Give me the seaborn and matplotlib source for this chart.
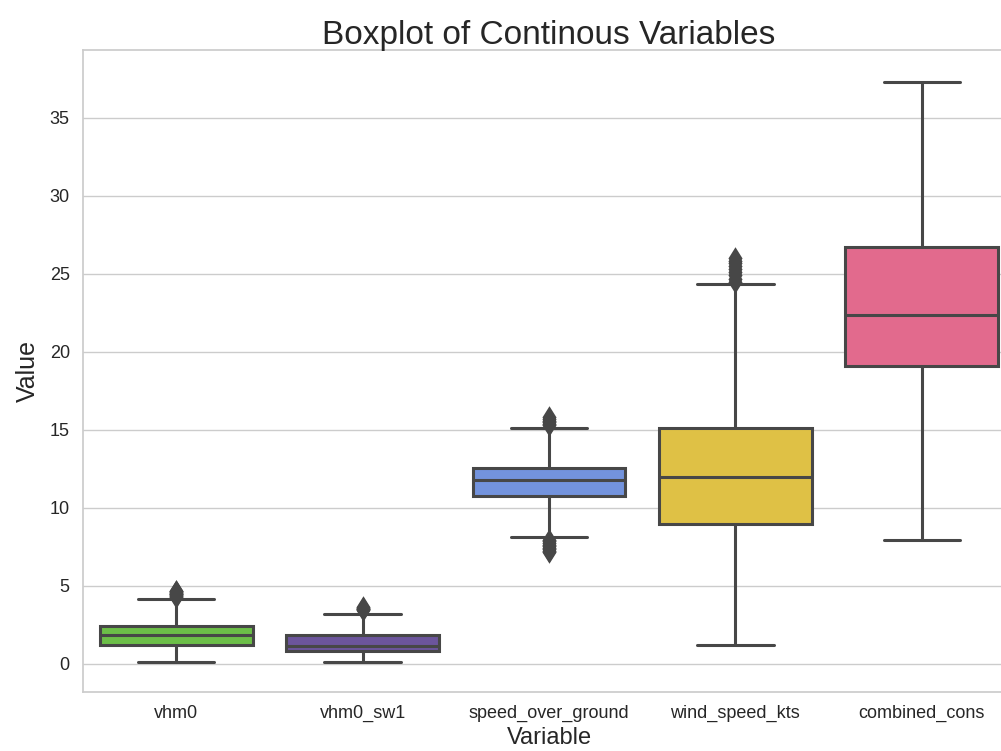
import matplotlib
matplotlib.use("Agg")
import matplotlib.pyplot as plt
import seaborn as sns
import pandas as pd

# Summary statistics per variable: lower whisker, Q1, median, Q3, upper whisker
variables = ["vhm0", "vhm0_sw1", "speed_over_ground", "wind_speed_kts", "combined_cons"]
whisker_low = [0.10, 0.10, 8.12, 1.20, 7.93]
q1 = [1.22, 0.85, 10.77, 8.97, 19.10]
median = [1.86, 1.15, 11.79, 11.97, 22.37]
q3 = [2.44, 1.88, 12.56, 15.15, 26.75]
whisker_high = [4.17, 3.22, 15.15, 24.34, 37.27]

# Outlying observations beyond the whiskers
outliers_low = [
    [],
    [],
    [7.15, 7.25, 7.35, 7.45, 7.55, 7.65, 7.75, 7.85, 7.95],
    [],
    [],
]
outliers_high = [
    [4.30, 4.35, 4.40, 4.45, 4.50, 4.55, 4.60, 4.65, 4.70],
    [3.45, 3.50, 3.55, 3.60, 3.65],
    [15.30, 15.40, 15.50, 15.60, 15.70, 15.80],
    [24.50, 24.70, 24.90, 25.10, 25.30, 25.50, 25.70, 25.85, 26.00],
    [],
]

colors = ["#6cbf48", "#6c559c", "#7393dd", "#dfc145", "#e26a8d"]


def sample_for(i, k=12):
    """Observations whose quartiles and whiskers equal the summary above."""
    low = list(outliers_low[i])
    low += [whisker_low[i]] * (k - len(low))
    high = [whisker_high[i]] * (k - len(outliers_high[i])) + list(outliers_high[i])
    return (low + [q1[i]] * k + [median[i]] + [q3[i]] * k + high)


rows = []
for i, name in enumerate(variables):
    for v in sample_for(i):
        rows.append({"Variable": name, "Value": v})
df = pd.DataFrame(rows)

sns.set_theme(style="whitegrid")
plt.rcParams["font.family"] = ["Liberation Sans", "DejaVu Sans"]

fig = plt.figure(figsize=(10.01, 7.51), dpi=100)
ax = fig.add_axes([83 / 1001, 59 / 751, 932 / 1001, 642 / 751])

sns.boxplot(
    data=df, x="Variable", y="Value", hue="Variable",
    palette=colors, saturation=1, legend=False, ax=ax,
    linecolor="#474747", linewidth=2.2, width=0.82,
    flierprops={"marker": "d", "markersize": 8, "markeredgewidth": 2.5,
                "markerfacecolor": "#474747", "markeredgecolor": "#474747"},
)

ax.set_title("Boxplot of Continous Variables", fontsize=24, color="#262626", pad=4)
ax.set_xlabel("Variable", fontsize=17, color="#262626", labelpad=3)
ax.set_ylabel("Value", fontsize=18, color="#262626", labelpad=7)
ax.tick_params(axis="both", labelsize=13, colors="#262626")
ax.set_ylim(-1.8, 39.35)
ax.set_yticks([0, 5, 10, 15, 20, 25, 30, 35])

fig.savefig("out.png", dpi=100)
